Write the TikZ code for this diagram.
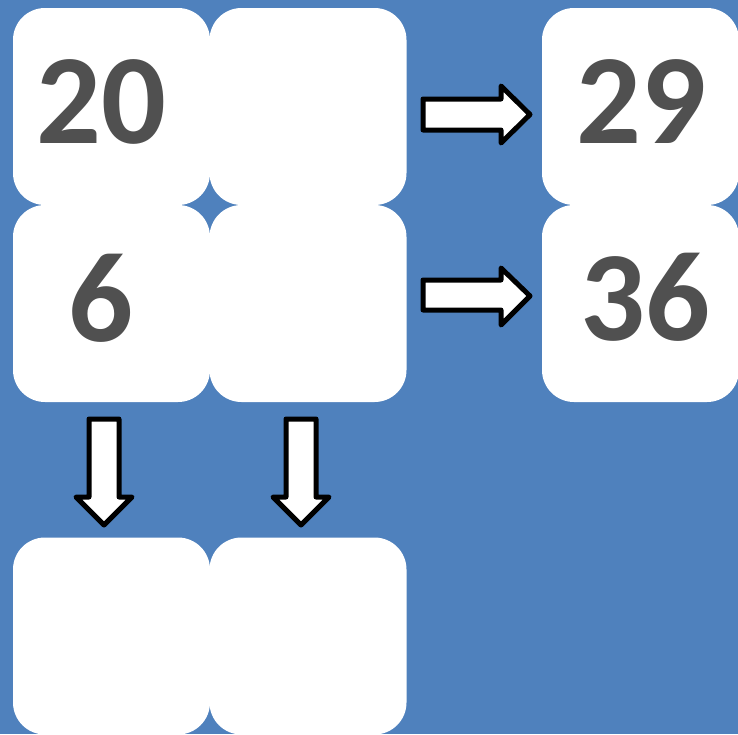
\documentclass[tikz,border=0pt]{standalone}
\usepackage{fontspec}
\setmainfont{Carlito}
\begin{document}
\begin{tikzpicture}[x=1pt,y=-1pt,
  box/.style={fill=white, draw=none, rounded corners=32pt, minimum width=197pt, minimum height=197pt, inner sep=0pt},
  num/.style={text=numgray, font=\fontsize{128}{128}\selectfont\bfseries, inner sep=0pt},
  blockarrow/.style={draw=black, fill=white, line width=5pt, line join=round}]
\definecolor{bgblue}{HTML}{4F81BD}
\definecolor{numgray}{HTML}{505050}
\useasboundingbox (0,0) rectangle (738,734);
\fill[bgblue] (0,0) rectangle (738,734);
\begin{scope}
\clip (0,0) rectangle (738,734);
\node[box] (a1) at (111.5,106.5) {};
\node[box] (a2) at (308,106.5) {};
\node[box] (b1) at (111.5,303.5) {};
\node[box] (b2) at (308,303.5) {};
\node[box] (c1) at (111.5,636) {};
\node[box] (c2) at (308,636) {};
\node[box] (r1) at (640.5,106.5) {};
\node[box] (r2) at (640.5,303.5) {};
\end{scope}
\node[num] (t20) at (101,101.5) {20};
\node[num] (t6) at (101,298) {6};
\node[num] (t29) at (641,101.5) {29};
\node[num] (t36) at (645,297.5) {36};
% right arrows
\draw[blockarrow] (423,99) -- (501,99) -- (501,86) -- (530,114.5) -- (501,143) -- (501,130) -- (423,130) -- cycle;
\draw[blockarrow] (423,280) -- (501,280) -- (501,268) -- (530,296) -- (501,325) -- (501,310) -- (423,310) -- cycle;
% down arrows
\draw[blockarrow] (89,419) -- (89,497) -- (76,497) -- (104,525) -- (132,497) -- (119,497) -- (119,419) -- cycle;
\draw[blockarrow] (286,419) -- (286,497) -- (273,497) -- (301,525) -- (329,497) -- (316,497) -- (316,419) -- cycle;
\end{tikzpicture}
\end{document}
